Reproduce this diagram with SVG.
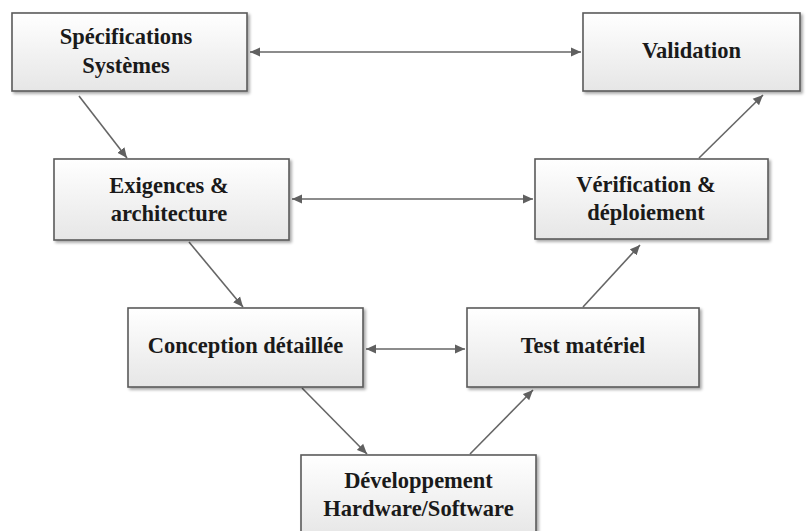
<svg xmlns="http://www.w3.org/2000/svg" width="806" height="531" viewBox="0 0 806 531">
  <defs>
    <linearGradient id="boxFill" x1="0" y1="0" x2="0" y2="1">
      <stop offset="0" stop-color="#ffffff"/>
      <stop offset="1" stop-color="#e6e6e6"/>
    </linearGradient>
    <filter id="shadow" x="-5%" y="-5%" width="115%" height="120%">
      <feGaussianBlur in="SourceAlpha" stdDeviation="1.5"/>
      <feOffset dx="2" dy="2" result="b"/>
      <feComponentTransfer><feFuncA type="linear" slope="0.35"/></feComponentTransfer>
      <feMerge><feMergeNode/><feMergeNode in="SourceGraphic"/></feMerge>
    </filter>
    <marker id="head" viewBox="0 0 10 10" refX="10" refY="5" markerWidth="10" markerHeight="10" markerUnits="userSpaceOnUse" orient="auto-start-reverse">
      <path d="M0,0.5 L10,5 L0,9.5 Z" fill="#606060"/>
    </marker>
  </defs>
  <style>
    .box { fill: url(#boxFill); stroke: #5a5a5a; stroke-width: 1.6; filter: url(#shadow); }
    .lbl { font-family: "Liberation Serif", "DejaVu Serif", serif; font-weight: bold; font-size: 22.5px; fill: #1a1a1a; text-anchor: middle; }
    .arc { stroke: #666666; stroke-width: 1.6; fill: none; marker-end: url(#head); }
    .both { marker-start: url(#head); }
  </style>
  <rect width="806" height="531" fill="#ffffff"/>

  <g id="connectors">
    <line class="arc both" x1="250" y1="52" x2="581" y2="52"/>
    <line class="arc both" x1="292" y1="199" x2="533" y2="199"/>
    <line class="arc both" x1="366" y1="349" x2="465" y2="349"/>
    <line class="arc" x1="79" y1="96" x2="127" y2="158"/>
    <line class="arc" x1="189" y1="242" x2="243" y2="307"/>
    <line class="arc" x1="302" y1="388" x2="367" y2="454"/>
    <line class="arc" x1="470" y1="454" x2="533" y2="390"/>
    <line class="arc" x1="583" y1="307" x2="640" y2="245"/>
    <line class="arc" x1="699" y1="158" x2="763" y2="95"/>
  </g>

  <g id="specifications">
    <rect class="box" x="12" y="13" width="235" height="78"/>
    <text class="lbl" x="126" y="44">Spécifications</text>
    <text class="lbl" x="126" y="73">Systèmes</text>
  </g>

  <g id="validation">
    <rect class="box" x="583" y="13" width="217" height="78"/>
    <text class="lbl" x="691.5" y="58">Validation</text>
  </g>

  <g id="exigences">
    <rect class="box" x="54" y="159" width="235" height="81"/>
    <text class="lbl" x="169" y="193">Exigences &amp;</text>
    <text class="lbl" x="169" y="221">architecture</text>
  </g>

  <g id="verification">
    <rect class="box" x="535" y="159" width="233" height="80"/>
    <text class="lbl" x="646" y="192">Vérification &amp;</text>
    <text class="lbl" x="646" y="220">déploiement</text>
  </g>

  <g id="conception">
    <rect class="box" x="128" y="308" width="235" height="79"/>
    <text class="lbl" x="245.5" y="353">Conception détaillée</text>
  </g>

  <g id="test">
    <rect class="box" x="467" y="308" width="232" height="79"/>
    <text class="lbl" x="583" y="353">Test matériel</text>
  </g>

  <g id="developpement">
    <rect class="box" x="301" y="455" width="235" height="82"/>
    <text class="lbl" x="418.5" y="488">Développement</text>
    <text class="lbl" x="418.5" y="516">Hardware/Software</text>
  </g>
</svg>
